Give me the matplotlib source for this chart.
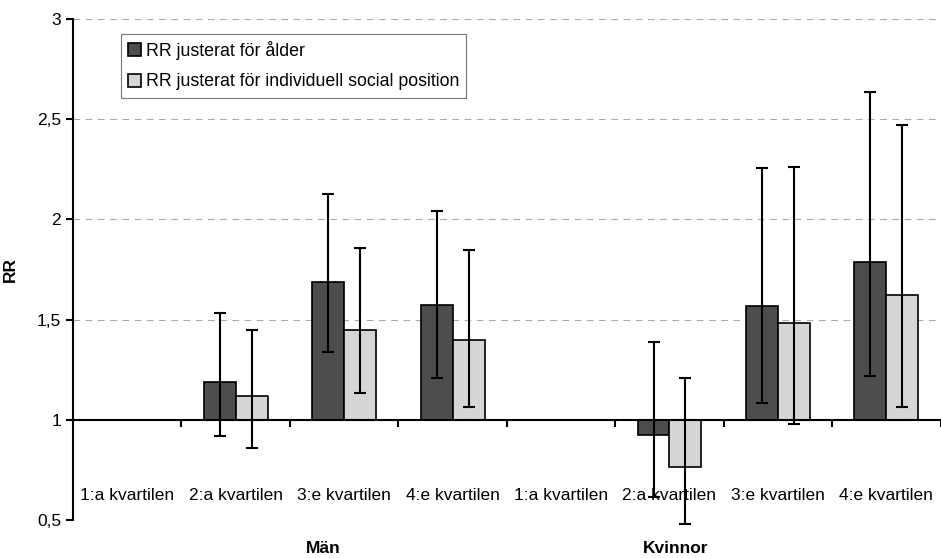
import numpy as np
import matplotlib.pyplot as plt

plt.rcParams['font.family'] = ['Liberation Sans', 'DejaVu Sans']

# Data
kvartiler = ['1:a kvartilen', '2:a kvartilen', '3:e kvartilen', '4:e kvartilen',
             '1:a kvartilen', '2:a kvartilen', '3:e kvartilen', '4:e kvartilen']
grupper = ['Män', 'Kvinnor']
serier = ['RR justerat för ålder', 'RR justerat för individuell social position']

rr_alder = [1.0, 1.19, 1.69, 1.575, 1.0, 0.923, 1.567, 1.785]
lo_alder = [np.nan, 0.92, 1.34, 1.21, np.nan, 0.617, 1.083, 1.217]
hi_alder = [np.nan, 1.535, 2.125, 2.04, np.nan, 1.39, 2.257, 2.635]

rr_social = [1.0, 1.12, 1.45, 1.40, 1.0, 0.763, 1.483, 1.625]
lo_social = [np.nan, 0.86, 1.135, 1.065, np.nan, 0.478, 0.978, 1.065]
hi_social = [np.nan, 1.45, 1.855, 1.845, np.nan, 1.21, 2.26, 2.47]

fig = plt.figure(figsize=(9.41, 5.58), dpi=100)
ax = fig.add_axes([0.0776, 0.068, 0.922, 0.898])

x = np.arange(len(kvartiler))
w = 0.295
bas = 1.0

for vals, lo, hi, off, col, lab in [
        (rr_alder, lo_alder, hi_alder, -w / 2, '#4d4d4d', serier[0]),
        (rr_social, lo_social, hi_social, w / 2, '#d6d6d6', serier[1])]:
    v = np.array(vals)
    ax.bar(x + off, v - bas, w, bottom=bas, color=col, edgecolor='black',
           linewidth=1.2, label=lab, zorder=3)
    yerr = np.vstack([v - np.array(lo), np.array(hi) - v])
    eb = ax.errorbar(x + off, v, yerr=yerr, fmt='none', ecolor='black',
                     elinewidth=1.5, capsize=4.5, capthick=1.5, zorder=4)
    for art in eb.get_children():
        art.set_clip_on(False)

ax.set_xlim(-0.5, 7.5)
ax.set_ylim(0.5, 3.0)
ax.set_yticks([0.5, 1, 1.5, 2, 2.5, 3])
ax.set_yticklabels(['0,5', '1', '1,5', '2', '2,5', '3'], fontsize=12.5)
ax.tick_params(axis='y', direction='out', length=5, width=1.5)
ax.yaxis.grid(True, linestyle=(0, (6, 5)), color='#aaaaaa', linewidth=0.8)
ax.set_axisbelow(True)

ax.spines['top'].set_visible(False)
ax.spines['right'].set_visible(False)
ax.spines['left'].set_linewidth(1.5)
ax.spines['bottom'].set_position(('data', 1.0))
ax.spines['bottom'].set_linewidth(1.5)
ax.spines['bottom'].set_zorder(5)
ax.set_xticks(np.arange(0.5, 8, 1))
ax.set_xticklabels([])
ax.tick_params(axis='x', direction='out', length=5, width=1.5)

for xi, lab in zip(x, kvartiler):
    ax.text(xi, 0.625, lab, ha='center', va='center', fontsize=12.5)

ax.text(1.81, 0.36, grupper[0], ha='center', va='center', fontsize=12.5,
        fontweight='bold', clip_on=False)
ax.text(5.06, 0.36, grupper[1], ha='center', va='center', fontsize=12.5,
        fontweight='bold', clip_on=False)

ax.set_ylabel('RR', fontsize=12.5, fontweight='bold', labelpad=14)

leg = ax.legend(loc='upper left', bbox_to_anchor=(0.055, 0.97), fontsize=12.8,
                frameon=True, fancybox=False, edgecolor='#555555',
                handlelength=0.75, handleheight=0.75, handletextpad=0.25,
                borderpad=0.4, labelspacing=0.75, borderaxespad=0)
leg.get_frame().set_linewidth(0.8)

fig.savefig('out.png', dpi=100)
